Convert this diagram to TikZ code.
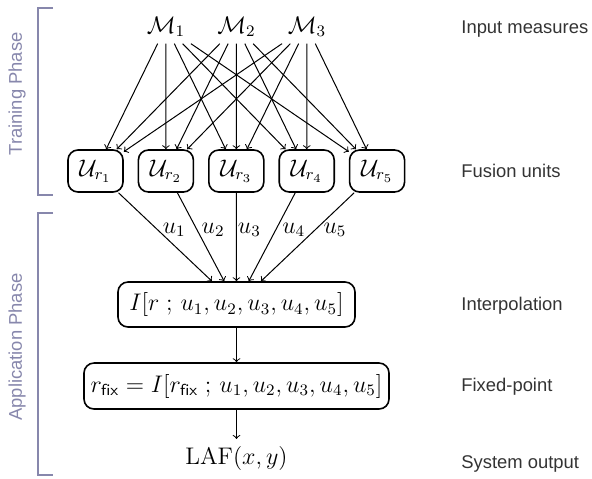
\documentclass[tikz,border=0pt]{standalone}
\usepackage{fontspec}
\newfontfamily\lblfont{Liberation Sans}
\definecolor{phase}{RGB}{135,135,172}
\begin{document}
\begin{tikzpicture}[x=0.5pt,y=-0.5pt,
  mathnode/.style={font=\fontsize{12}{14}\selectfont},
  unitbox/.style={draw, thick, rounded corners=5pt, minimum width=27.5pt, minimum height=21pt, inner sep=0pt, mathnode},
  bigbox/.style={draw, thick, rounded corners=5pt, minimum height=22.5pt, inner sep=0pt, mathnode},
  arr/.style={->, line width=0.5pt},
  ulabel/.style={mathnode, inner sep=0pt, pos=0.42},
  sidelabel/.style={font=\lblfont\fontsize{9.2}{11}\selectfont, anchor=base west, inner sep=0pt, text=black!80},
  phaselabel/.style={font=\lblfont\fontsize{9.2}{11}\selectfont, text=phase, rotate=90, inner sep=0pt},
  bracket/.style={draw=phase, line width=0.6pt}]
\useasboundingbox (0,0) rectangle (592,478);

% input measures
\node[mathnode, anchor=base] (M1) at (166,33) {$\mathcal{M}_1$};
\node[mathnode, anchor=base] (M2) at (236.5,33) {$\mathcal{M}_2$};
\node[mathnode, anchor=base] (M3) at (307,33) {$\mathcal{M}_3$};

% fusion units
\node[unitbox] (U1) at (95.5,171) {$\mathcal{U}_{r_1}$};
\node[unitbox] (U2) at (165.9,171) {$\mathcal{U}_{r_2}$};
\node[unitbox] (U3) at (236.3,171) {$\mathcal{U}_{r_3}$};
\node[unitbox] (U4) at (306.7,171) {$\mathcal{U}_{r_4}$};
\node[unitbox] (U5) at (377.1,171) {$\mathcal{U}_{r_5}$};

\foreach \m in {1,2,3}{
  \foreach \u in {1,...,5}{
    \draw[arr] (M\m) -- (U\u);
  }
}

% interpolation
\node[bigbox, minimum width=118.5pt] (I) at (236.5,304.5) {$I[r\;;\,u_1,u_2,u_3,u_4,u_5]$};
\draw[arr] (U1) -- node[ulabel, xshift=8.25pt] {$u_1$} (I);
\draw[arr] (U2) -- node[ulabel, xshift=8pt] {$u_2$} (I);
\draw[arr] (U3) -- node[ulabel, xshift=6.5pt] {$u_3$} (I);
\draw[arr] (U4) -- node[ulabel, xshift=9pt] {$u_4$} (I);
\draw[arr] (U5) -- node[ulabel, xshift=10pt] {$u_5$} (I);

% fixed point
\node[bigbox, minimum width=152.5pt, minimum height=23pt] (F) at (236.5,386) {$r_{\mathsf{fix}} = I[r_{\mathsf{fix}}\;;\,u_1,u_2,u_3,u_4,u_5]$};
\draw[arr] (I) -- (F);

% output
\node[mathnode] (L) at (236.5,458) {$\mathrm{LAF}(x,y)$};
\draw[arr] (F) -- (L);

% side labels
\node[sidelabel] (s1) at (461,33) {Input measures};
\node[sidelabel] (s2) at (461,177) {Fusion units};
\node[sidelabel] (s3) at (461,310) {Interpolation};
\node[sidelabel] (s4) at (461,391) {Fixed-point};
\node[sidelabel] (s5) at (461,468) {System output};

% phase brackets
\draw[bracket] (53,8) -- (38,8) -- (38,195) -- (53,195);
\draw[bracket] (53,213) -- (38,213) -- (38,475) -- (53,475);
\node[phaselabel] (tp) at (17,94) {Training Phase};
\node[phaselabel] (ap) at (17,347) {Application Phase};
\end{tikzpicture}
\end{document}
